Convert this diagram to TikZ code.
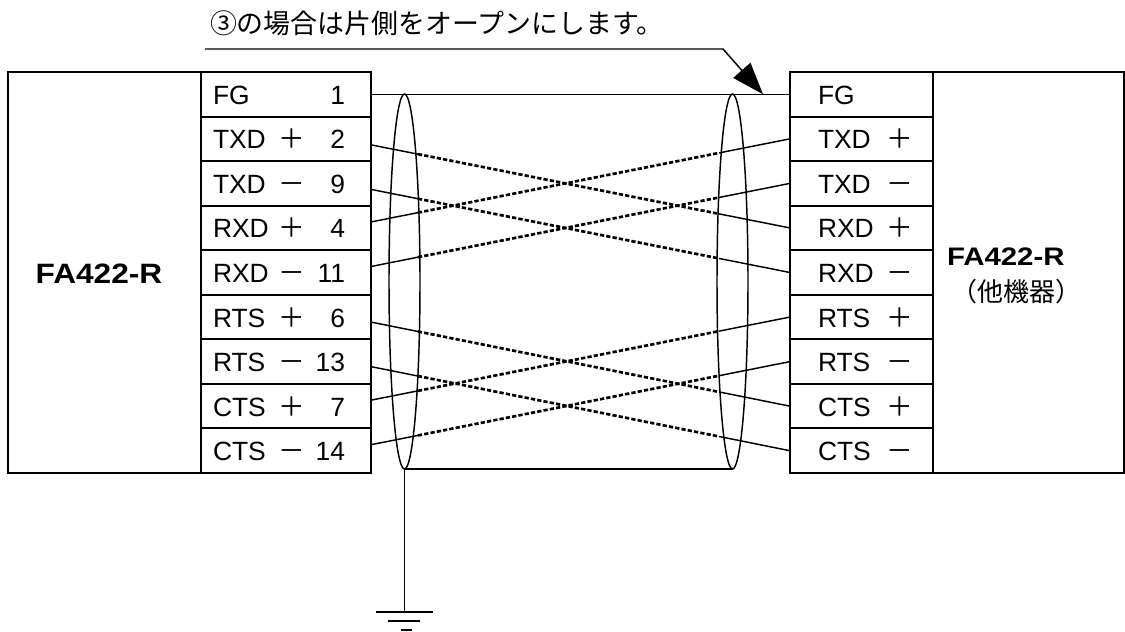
\documentclass[tikz,border=0pt]{standalone}
\usepackage{fontspec}
\usepackage{graphicx}
\setmainfont{Liberation Sans}
\newfontfamily\jpfont{Noto Sans CJK JP}
\usetikzlibrary{calc,arrows.meta,shapes.geometric}
\begin{document}
\begin{tikzpicture}[x=0.75pt,y=-0.75pt,
  every node/.style={inner sep=0pt,outer sep=0pt},
  frame/.style={draw,line width=1.5pt,rectangle},
  wire/.style={line width=1.1pt},
  dwire/.style={line width=2pt,dash pattern=on 3.2pt off 1.6pt},
  pintxt/.style={font=\fontsize{19.8}{22}\selectfont},
  signtxt/.style={font=\jpfont\fontsize{20}{22}\selectfont},
  shield/.style={draw,ellipse,line width=1.1pt,minimum width=23.25pt,minimum height=281.25pt}]
\useasboundingbox (0,0) rectangle (1125,632);

% outer device boxes
\node[frame,minimum width=144.75pt,minimum height=300.75pt] (devL) at (104.5,272.5) {};
\node[frame,minimum width=143.25pt,minimum height=300.75pt] (devR) at (1028,272.5) {};
\node[anchor=base,font=\bfseries\fontsize{21}{24}\selectfont] (faL) at (99,283) {\scalebox{1.13}[1]{FA422-R}};
\node[anchor=base west,font=\bfseries\fontsize{19}{22}\selectfont] (faR) at (947,265) {\scalebox{1.16}[1]{FA422-R}};
\node[font=\jpfont\fontsize{19.5}{22}\selectfont] (other) at (1016,292) {（他機器）};

% left pin rows
\foreach \n/\s/\k [count=\i from 0] in {FG/{}/1, TXD/＋/2, TXD/－/9, RXD/＋/4, RXD/－/11, RTS/＋/6, RTS/－/13, CTS/＋/7, CTS/－/14} {
  \node[frame,minimum width=127.5pt,minimum height=33.42pt] (L\i) at (286,{72+44.556*(\i+0.5)}) {};
  \node[pintxt,anchor=base west] (Ln\i) at ($(L\i.west)+(12,10)$) {\n};
  \node[signtxt,anchor=base] (Ls\i) at ($(L\i.west)+(91,10)$) {\s};
  \node[pintxt,anchor=base east] (Lk\i) at ($(L\i.east)+(-26,10)$) {\k};
}
% right pin rows
\foreach \n/\s [count=\i from 0] in {FG/{}, TXD/＋, TXD/－, RXD/＋, RXD/－, RTS/＋, RTS/－, CTS/＋, CTS/－} {
  \node[frame,minimum width=107.25pt,minimum height=33.42pt] (R\i) at (861.5,{72+44.556*(\i+0.5)}) {};
  \node[pintxt,anchor=base west] (Rn\i) at ($(R\i.west)+(28,10)$) {\n};
  \node[signtxt,anchor=base] (Rs\i) at ($(R\i.west)+(110,10)$) {\s};
}

% shields
\node[shield] (shL) at (404.5,281.5) {};
\node[shield] (shR) at (732.5,281.5) {};

% FG wire
\draw[wire] (L0.east) -- (R0.west);
% crossed wires
\foreach \i/\o/\j in {1/6/3, 2/6/4, 3/-6/1, 4/-6/2, 5/5/7, 6/5/8, 7/-6/5, 8/-6/6} {
  \coordinate (wa\i) at ($(L\i.east)+(0,\o)$);
  \draw[wire] (wa\i) -- ($(wa\i)!0.112!(R\j.west)$) coordinate (wp\i);
  \draw[wire] ($(wa\i)!0.8305!(R\j.west)$) coordinate (wq\i) -- (R\j.west);
  \draw[dwire] (wp\i) -- (wq\i);
}

% shield bottom link and ground
\draw[wire] (shL.south) -- (shR.south);
\coordinate (gnd) at (405,612);
\draw[wire] (shL.south) -- (shL.south |- gnd);
\draw[wire] ($(gnd)+(-29,0)$) -- ($(gnd)+(28,0)$);
\draw[wire] ($(gnd)+(-17,9)$) -- ($(gnd)+(15,9)$);
\draw[wire] ($(gnd)+(-4,18)$) -- ($(gnd)+(7,18)$);

% note with arrow
\node[anchor=west,font=\jpfont\fontsize{20.2}{22}\selectfont] (note) at (210,23.5) {③の場合は片側をオープンにします。};
\coordinate (ua) at (205,49);
\coordinate (ub) at (723,49);
\coordinate (tip) at ($(L0.east)!0.9356!(R0.west)$);
\draw[wire,-{Triangle[length=24pt,width=17pt]}] (ua) -- (ub) -- (tip);
\end{tikzpicture}
\end{document}
